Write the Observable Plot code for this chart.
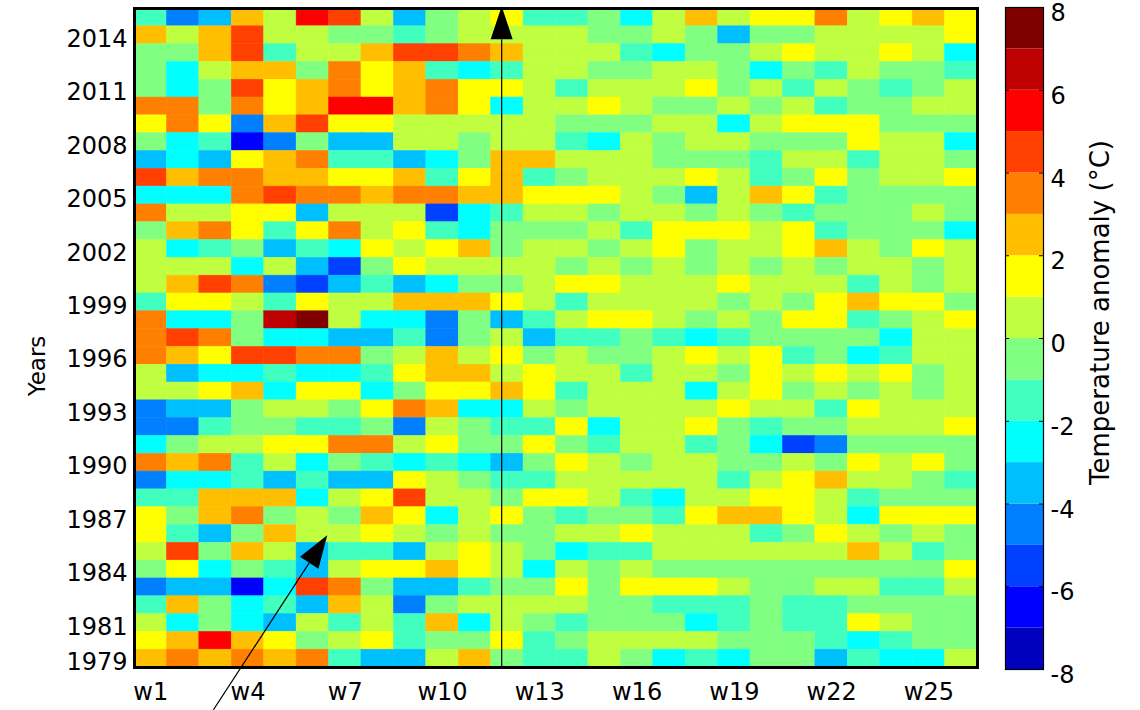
<!DOCTYPE html>
<html>
<head>
<meta charset="utf-8">
<script src="https://cdn.jsdelivr.net/npm/d3@7"></script>
<script src="https://cdn.jsdelivr.net/npm/@observablehq/plot@0.6"></script>
<style>
  html, body { margin: 0; padding: 0; background: #fff; }
  #wrap { position: relative; width: 1140px; height: 710px; overflow: hidden; }
  #main { position: absolute; left: 0; top: 0; }
  #cbar { position: absolute; left: 990px; top: 0; }
</style>
</head>
<body>
<div id="wrap"><div id="main"></div><div id="cbar"></div></div>
<script>
// ---- data ----
const weeks = [1,2,3,4,5,6,7,8,9,10,11,12,13,14,15,16,17,18,19,20,21,22,23,24,25,26];
const weekTicks = [1,4,7,10,13,16,19,22,25];
const years = [2015,2014,2013,2012,2011,2010,2009,2008,2007,2006,2005,2004,2003,2002,2001,2000,
  1999,1998,1997,1996,1995,1994,1993,1992,1991,1990,1989,1988,1987,1986,1985,1984,1983,1982,1981,1980,1979];
const yearTicks = [1979,1981,1984,1987,1990,1993,1996,1999,2002,2005,2008,2011,2014];
// temperature anomaly (°C), one row per year (same order as `years`), 26 weeks each
const anomalies = [
  [-1.5,-4.5,-3.5,2.5,0.5,5.5,4.5,0.5,-3.5, -0.5,0.5,1.5,-1.5,-1.5,-0.5,-2.5,0.5,2.5, 0.5,1.5,1.5,3.5,0.5,1.5,2.5,1.5],
  [2.5,0.5,2.5,4.5,0.5,0.5,-0.5,-0.5,-1.5, -0.5,0.5,0.5,0.5,0.5,-0.5,-0.5,0.5,-0.5, -3.5,-0.5,-0.5,0.5,0.5,0.5,0.5,1.5],
  [-0.5,-0.5,2.5,4.5,-1.5,0.5,0.5,2.5,4.5, 4.5,3.5,2.5,0.5,0.5,0.5,-1.5,-2.5,-0.5, -0.5,0.5,1.5,0.5,0.5,1.5,0.5,-2.5],
  [-0.5,-2.5,0.5,2.5,2.5,-0.5,3.5,1.5,2.5, -1.5,-2.5,-1.5,0.5,0.5,-0.5,-0.5,0.5,0.5, -0.5,-2.5,-0.5,-1.5,0.5,-0.5,-0.5,-1.5],
  [-0.5,-2.5,-0.5,4.5,1.5,2.5,3.5,1.5,2.5, 3.5,1.5,1.5,0.5,-1.5,0.5,0.5,0.5,1.5, -0.5,0.5,-1.5,0.5,-0.5,-1.5,-0.5,0.5],
  [3.5,3.5,-0.5,3.5,1.5,2.5,5.5,5.5,2.5, 3.5,1.5,-2.5,0.5,0.5,1.5,0.5,-0.5,-0.5, 0.5,-0.5,0.5,-1.5,-0.5,-0.5,0.5,0.5],
  [1.5,3.5,1.5,-4.5,2.5,4.5,1.5,1.5,0.5, 0.5,0.5,0.5,0.5,-0.5,-0.5,-0.5,0.5,0.5, -2.5,0.5,1.5,1.5,1.5,-0.5,-0.5,-0.5],
  [-0.5,-2.5,-1.5,-6.5,-4.5,-0.5,-3.5,-3.5,0.5, 0.5,-0.5,0.5,0.5,-1.5,-2.5,0.5,-0.5,0.5, 0.5,-0.5,-0.5,-0.5,1.5,0.5,0.5,-2.5],
  [-3.5,-2.5,-3.5,1.5,2.5,3.5,-1.5,-1.5,-3.5, -2.5,-0.5,2.5,2.5,0.5,0.5,0.5,-0.5,-0.5, -0.5,-1.5,0.5,0.5,-1.5,0.5,0.5,-0.5],
  [4.5,2.5,3.5,3.5,2.5,2.5,1.5,1.5,2.5, -1.5,1.5,2.5,-1.5,-0.5,0.5,0.5,0.5,1.5, 0.5,-1.5,-0.5,1.5,-0.5,0.5,0.5,1.5],
  [-2.5,-2.5,-2.5,3.5,4.5,3.5,3.5,2.5,3.5, 3.5,2.5,2.5,1.5,1.5,1.5,0.5,-0.5,-3.5, 0.5,2.5,1.5,-1.5,-0.5,-0.5,-0.5,-0.5],
  [3.5,0.5,0.5,1.5,1.5,-3.5,0.5,0.5,0.5, -5.5,-2.5,-1.5,0.5,0.5,-0.5,0.5,0.5,-0.5, 0.5,-0.5,-1.5,-0.5,-0.5,-0.5,0.5,-0.5],
  [-0.5,2.5,3.5,1.5,-1.5,1.5,3.5,0.5,1.5, -1.5,-2.5,-0.5,-0.5,-0.5,0.5,-1.5,1.5,1.5, 1.5,0.5,1.5,-1.5,-0.5,-0.5,-0.5,-2.5],
  [0.5,-2.5,-1.5,-0.5,-3.5,-1.5,-2.5,1.5,0.5, 1.5,2.5,-0.5,0.5,0.5,-0.5,0.5,1.5,-0.5, 0.5,0.5,1.5,2.5,0.5,-0.5,1.5,0.5],
  [0.5,0.5,0.5,-2.5,0.5,-3.5,-5.5,-0.5,1.5, 0.5,0.5,0.5,0.5,-0.5,0.5,-0.5,0.5,-0.5, 0.5,-0.5,0.5,-0.5,0.5,0.5,-0.5,0.5],
  [0.5,2.5,4.5,3.5,-4.5,-5.5,-3.5,-1.5,-3.5, -2.5,-0.5,-0.5,0.5,1.5,1.5,0.5,0.5,0.5, 1.5,0.5,0.5,0.5,-1.5,0.5,-0.5,0.5],
  [-1.5,1.5,1.5,0.5,-1.5,1.5,0.5,0.5,2.5, 2.5,2.5,1.5,0.5,-1.5,0.5,0.5,0.5,0.5, -0.5,0.5,-0.5,1.5,2.5,1.5,1.5,-0.5],
  [3.5,-2.5,-2.5,-0.5,6.5,7.5,0.5,-2.5,-2.5, -4.5,-0.5,-3.5,-1.5,0.5,1.5,1.5,0.5,-0.5, 0.5,-0.5,1.5,1.5,-1.5,-0.5,0.5,1.5],
  [3.5,4.5,3.5,-0.5,-2.5,-2.5,-3.5,-3.5,-1.5, -4.5,-0.5,0.5,-3.5,-1.5,-1.5,-0.5,-1.5,-2.5, -1.5,-0.5,-0.5,-0.5,-0.5,-2.5,0.5,0.5],
  [3.5,2.5,1.5,4.5,4.5,3.5,3.5,-0.5,0.5, 2.5,0.5,1.5,-0.5,0.5,-0.5,-0.5,0.5,1.5, 0.5,1.5,-1.5,-0.5,-2.5,-1.5,0.5,0.5],
  [0.5,-3.5,-2.5,-2.5,-1.5,-2.5,-2.5,-1.5,1.5, 2.5,2.5,0.5,1.5,0.5,0.5,-1.5,0.5,0.5, -0.5,1.5,0.5,1.5,0.5,1.5,-0.5,0.5],
  [0.5,0.5,1.5,2.5,-2.5,1.5,1.5,-2.5,-0.5, 1.5,1.5,2.5,1.5,-1.5,0.5,0.5,0.5,-2.5, 0.5,1.5,-0.5,0.5,-0.5,0.5,-0.5,0.5],
  [-4.5,-3.5,-3.5,-0.5,0.5,0.5,-0.5,1.5,3.5, 2.5,-2.5,-2.5,0.5,-0.5,0.5,0.5,0.5,0.5, 1.5,0.5,0.5,-1.5,1.5,0.5,0.5,0.5],
  [-4.5,-4.5,-1.5,-0.5,-0.5,-1.5,-1.5,-0.5,-4.5, 0.5,-0.5,-1.5,-1.5,1.5,-2.5,0.5,0.5,1.5, -0.5,-1.5,-0.5,-0.5,0.5,0.5,0.5,1.5],
  [-2.5,-0.5,0.5,0.5,1.5,1.5,3.5,3.5,0.5, 1.5,-0.5,-0.5,1.5,-0.5,-1.5,0.5,0.5,-1.5, -0.5,-2.5,-5.5,-4.5,-0.5,-0.5,-0.5,-0.5],
  [3.5,2.5,3.5,-1.5,0.5,-2.5,-0.5,-1.5,-2.5, -1.5,-2.5,-3.5,-0.5,1.5,0.5,-0.5,0.5,0.5, -0.5,-0.5,0.5,-0.5,1.5,0.5,1.5,-0.5],
  [-4.5,-2.5,-2.5,-1.5,-3.5,-1.5,-3.5,-3.5,1.5, 0.5,-0.5,-1.5,-1.5,0.5,0.5,0.5,0.5,0.5, -1.5,0.5,1.5,2.5,0.5,0.5,-0.5,-1.5],
  [-1.5,-1.5,2.5,2.5,2.5,-2.5,0.5,1.5,4.5, 0.5,0.5,-0.5,1.5,1.5,0.5,-1.5,-2.5,0.5, 0.5,1.5,1.5,0.5,-1.5,-0.5,-0.5,-0.5],
  [1.5,-0.5,2.5,3.5,-0.5,0.5,-0.5,2.5,1.5, -2.5,0.5,1.5,-0.5,-1.5,-0.5,-0.5,-1.5,1.5, 2.5,2.5,1.5,0.5,-2.5,1.5,1.5,1.5],
  [1.5,-1.5,-3.5,-0.5,2.5,0.5,0.5,1.5,0.5, -0.5,0.5,-0.5,-0.5,0.5,0.5,1.5,0.5,0.5, 0.5,-1.5,-0.5,1.5,0.5,-0.5,0.5,-0.5],
  [0.5,4.5,-0.5,2.5,0.5,-3.5,-1.5,-1.5,-3.5, 0.5,1.5,0.5,-0.5,-2.5,-1.5,-1.5,0.5,0.5, 0.5,0.5,0.5,0.5,2.5,0.5,-1.5,-0.5],
  [-0.5,1.5,-2.5,-0.5,-1.5,-3.5,0.5,1.5,1.5, 2.5,1.5,0.5,-2.5,0.5,-0.5,0.5,-0.5,-0.5, -0.5,-0.5,-0.5,-0.5,-0.5,-0.5,-0.5,1.5],
  [-4.5,-3.5,-3.5,-6.5,-2.5,4.5,3.5,-0.5,-3.5, -3.5,-1.5,-0.5,-0.5,1.5,-0.5,1.5,1.5,1.5, 0.5,-0.5,-0.5,0.5,0.5,-1.5,-1.5,0.5],
  [-1.5,2.5,-0.5,-2.5,-1.5,-3.5,2.5,0.5,-4.5, -0.5,0.5,0.5,0.5,0.5,-0.5,-0.5,-1.5,-1.5, -1.5,-0.5,-1.5,-1.5,-0.5,-0.5,-0.5,-0.5],
  [0.5,-2.5,-0.5,-2.5,-3.5,0.5,-1.5,0.5,-1.5, 2.5,-2.5,0.5,-0.5,-1.5,-0.5,-0.5,-0.5,-2.5, -1.5,-0.5,-1.5,-1.5,1.5,0.5,-0.5,-0.5],
  [1.5,2.5,5.5,2.5,1.5,-0.5,0.5,1.5,-1.5, -0.5,-0.5,1.5,-1.5,-0.5,0.5,0.5,0.5,0.5, -0.5,-0.5,-0.5,-1.5,-2.5,-1.5,-0.5,-0.5],
  [2.5,3.5,2.5,3.5,2.5,3.5,-1.5,-3.5,-3.5, 0.5,2.5,-0.5,-1.5,-1.5,0.5,-0.5,-2.5,-1.5, -2.5,-0.5,-0.5,-3.5,-1.5,-2.5,-2.5,0.5]
];
// discrete colour map (jet, 16 steps of 1 °C from -8 to 8)
const thresholds = [-7,-6,-5,-4,-3,-2,-1,0,1,2,3,4,5,6,7];
const jetColors = ["#0000bf","#0000ff","#0040ff","#0080ff","#00bfff","#00ffff","#40ffbf","#80ff80",
                   "#bfff40","#ffff00","#ffbf00","#ff8000","#ff4000","#ff0000","#bf0000","#800000"];
const colorbarBins = [-8,-7,-6,-5,-4,-3,-2,-1,0,1,2,3,4,5,6,7];
const colorbarTicks = [-8,-6,-4,-2,0,2,4,6,8];
// annotation arrows (week, year coordinates; tail -> head)
const arrows = [
  {x1: 11.84, y1: 1978.5, x2: 11.84, y2: 2015.6},
  {x1: 2.95, y1: 1976.1, x2: 6.46, y2: 1985.9}
];

// ---- build ----
const cells = years.flatMap((yr, i) => anomalies[i].map((v, j) => ({week: weeks[j], year: yr, value: v})));
const colorScale = {type: "threshold", domain: thresholds, range: jetColors};
const font = "DejaVu Sans, Liberation Sans, Arial, sans-serif";

function arrowMark(data, headLength, headWidth) {
  return (index, scales) => {
    const g = d3.create("svg:g");
    for (const a of data) {
      const x1 = scales.x(a.x1), y1 = scales.y(a.y1), x2 = scales.x(a.x2), y2 = scales.y(a.y2);
      const dx = x2 - x1, dy = y2 - y1, len = Math.hypot(dx, dy);
      const ux = dx / len, uy = dy / len;
      const bx = x2 - ux * headLength, by = y2 - uy * headLength;
      const px = -uy * headWidth / 2, py = ux * headWidth / 2;
      g.append("line").attr("x1", x1).attr("y1", y1).attr("x2", bx).attr("y2", by)
        .attr("stroke", "black").attr("stroke-width", 1.2);
      g.append("path").attr("d", `M${x2},${y2}L${bx + px},${by + py}L${bx - px},${by - py}Z`)
        .attr("fill", "black");
    }
    return g.node();
  };
}

const main = Plot.plot({
  width: 990, height: 710,
  marginLeft: 134, marginRight: 13, marginTop: 8, marginBottom: 43,
  style: {fontFamily: font, fontSize: "24px", background: "white", color: "black", overflow: "visible"},
  x: {domain: [0.5, 26.5]},
  y: {domain: [1978.5, 2015.5]},
  color: colorScale,
  marks: [
    Plot.rect(cells, {
      x1: d => d.week - 0.5, x2: d => d.week + 0.5,
      y1: d => d.year - 0.5, y2: d => d.year + 0.5,
      fill: "value", stroke: "value", strokeWidth: 0.5
    }),
    Plot.frame({stroke: "black", strokeWidth: 3}),
    Plot.axisX({ticks: weekTicks, tickFormat: d => `w${d}`, tickSize: 0, tickPadding: 15, label: null}),
    Plot.axisY({ticks: yearTicks, tickFormat: d => `${d}`, tickSize: 0, tickPadding: 7, dy: 4, label: null}),
    Plot.text(["Years"], {frameAnchor: "left", textAnchor: "middle", dx: -97, dy: 28, rotate: -90, fontSize: 23}),
    arrowMark(arrows, 33, 22)
  ]
});
document.getElementById("main").appendChild(main);

const cbar = Plot.plot({
  width: 150, height: 710,
  marginLeft: 15, marginRight: 97, marginTop: 7, marginBottom: 41,
  style: {fontFamily: font, fontSize: "24px", background: "white", color: "black", overflow: "visible"},
  y: {domain: [-8, 8]},
  color: colorScale,
  marks: [
    Plot.rect(colorbarBins, {y1: d => d, y2: d => d + 1, fill: d => d + 0.5}),
    Plot.tickY(colorbarTicks, {y: d => d, stroke: "black", insetRight: 34}),
    Plot.tickY(colorbarTicks, {y: d => d, stroke: "black", insetLeft: 34}),
    Plot.frame({stroke: "black", strokeWidth: 1.2}),
    Plot.axisY({anchor: "right", ticks: colorbarTicks, tickFormat: d => `${d}`, tickSize: 0, tickPadding: 7, dy: 6, label: null}),
    Plot.text(["Temperature anomaly (°C)"], {frameAnchor: "right", textAnchor: "middle", dx: 57, dy: -26, rotate: -90, fontSize: 26, letterSpacing: "1.3px"})
  ]
});
document.getElementById("cbar").appendChild(cbar);
</script>
</body>
</html>
